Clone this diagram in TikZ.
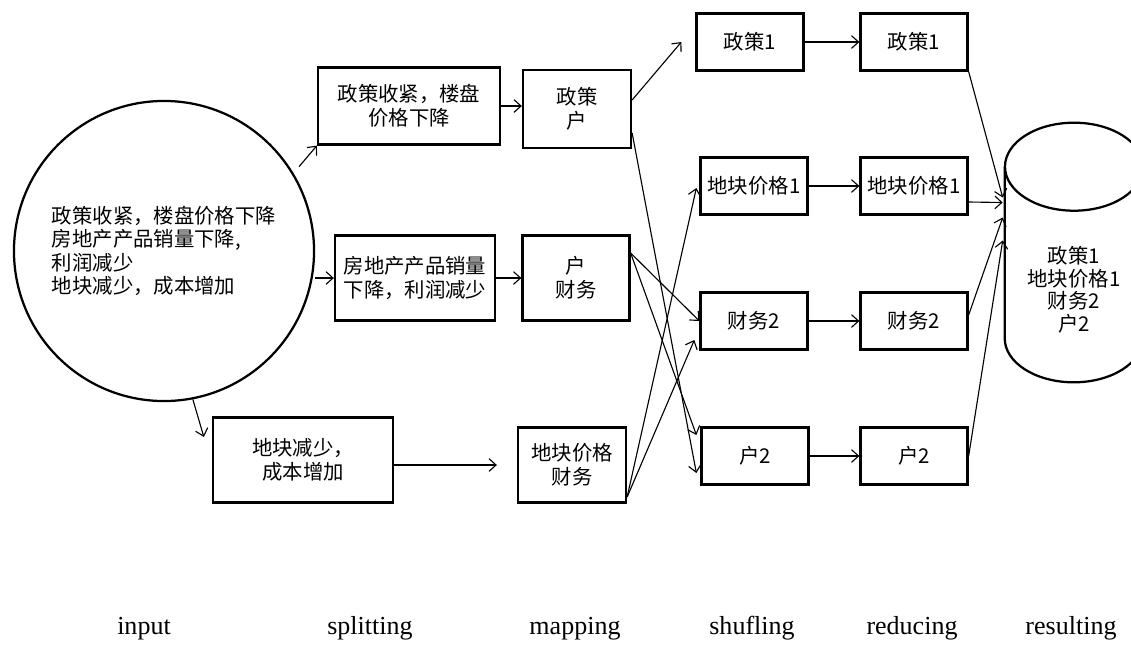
\documentclass[tikz,border=0pt]{standalone}
\usepackage{fontspec}
\setmainfont{Liberation Serif}
\newfontfamily\cjk{Noto Sans CJK SC}
\usepackage{tikz}
\usetikzlibrary{positioning,arrows.meta}

\begin{document}
\begin{tikzpicture}[
        x=0.025cm, y=-0.025cm,
        >={Straight Barb[length=5pt,width=9pt]},
        box/.style={draw, line width=1.6pt, align=center, inner sep=2pt,
            font=\cjk\fontsize{14.5}{17}\selectfont},
        smallbox/.style={box, minimum width=2.675cm, minimum height=1.425cm},
        bigcircle/.style={circle, draw, line width=1.6pt, inner sep=0pt, minimum size=7.5cm, align=left,
            font=\cjk\fontsize{14.5}{16.5}\selectfont},
        link/.style={->, line width=0.8pt},
        stage/.style={anchor=base, font=\fontsize{18.5}{20}\selectfont}
    ]
    \useasboundingbox (0,0) rectangle (1131,646);

    % input
    \node[bigcircle] (circ) at (164,251) {政策收紧，楼盘价格下降\\房地产产品销量下降,\\利润减少\\地块减少，成本增加};

    % splitting
    \node[box, minimum width=4.55cm, minimum height=1.925cm] (split1) at (409,106) {政策收紧，楼盘\\价格下降};
    \node[box, minimum width=4cm, minimum height=2.125cm] (split2) at (415,278) {房地产产品销量\\下降，利润减少};
    \node[box, minimum width=4.5cm, minimum height=2.125cm] (split3) at (303,460) {地块减少，\\成本增加};

    % mapping
    \node[box, minimum width=2.7cm, minimum height=1.95cm] (map1) at (577,109) {政策\\户};
    \node[box, minimum width=2.675cm, minimum height=2.125cm] (map2) at (576,278) {户\\财务};
    \node[box, minimum width=2.7cm, minimum height=1.875cm] (map3) at (572,465) {地块价格\\财务};

    % shufling
    \node[smallbox] (shuf1) at (750,42) {政策1};
    \node[smallbox] (shuf2) at (754,186) {地块价格1};
    \node[smallbox] (shuf3) at (754,321) {财务2};
    \node[smallbox] (shuf4) at (755,456) {户2};

    % reducing
    \node[smallbox] (red1) at (914,42) {政策1};
    \node[smallbox] (red2) at (914,186) {地块价格1};
    \node[smallbox] (red3) at (914,321) {财务2};
    \node[smallbox] (red4) at (914,456) {户2};

    % resulting
    \node[minimum width=3.45cm, minimum height=4.275cm, inner sep=0pt] (db) at (1074,252.5) {};
    \draw[line width=1.6pt] (db.north) ellipse [x radius=1.725cm, y radius=1.1cm];
    \draw[line width=1.6pt] (db.north west) -- (db.south west)
        arc[start angle=180, end angle=360, x radius=1.725cm, y radius=1.1cm] -- (db.north east);
    \node[align=center, font=\cjk\fontsize{14.5}{16}\selectfont] (dbtext) at (1074,290) {政策1\\地块价格1\\财务2\\户2};

    % input -> splitting
    \draw[link, shorten <=6pt] (circ.31) -- (split1.south west);
    \draw[link] (circ.east |- split2.west) -- (split2.west);
    \draw[link] (circ.-79) -- ([shift={(-8,-23)}]split3.west);

    % splitting -> mapping
    \draw[link] (split1.east) -- (split1.east -| map1.west);
    \draw[link] (split2.east) -- (split2.east -| map2.west);
    \draw[link] (split3.east |- map3.west) -- ([shift={(-20,0)}]map3.west);

    % mapping -> shufling
    \draw[link] ([shift={(0,-9)}]map1.east) -- ([shift={(-14,0)}]shuf1.west);
    \draw[link] ([shift={(0,24)}]map1.east) -- ([shift={(-4,17)}]shuf4.west);
    \draw[link] ([shift={(0,-25)}]map2.east) -- (shuf3.west);
    \draw[link] ([shift={(0,-25)}]map2.east) -- ([shift={(-4,-21)}]shuf4.west);
    \draw[link] ([shift={(0,32)}]map3.east) -- ([shift={(-3,2)}]shuf2.west);
    \draw[link] ([shift={(0,32)}]map3.east) -- ([shift={(-5,19)}]shuf3.west);

    % shufling -> reducing
    \foreach \i in {1,...,4}
        \draw[link] (shuf\i.east) -- (red\i.west);

    % reducing -> resulting
    \draw[link] (red1.south east) -- ([shift={(-2,-55)}]db.west);
    \draw[link] ([shift={(0,16)}]red2.east) -- ([shift={(-2,-50)}]db.west);
    \draw[link] ([shift={(0,-6)}]red3.east) -- ([shift={(-2,-35)}]db.west);
    \draw[link] (red4.east) -- ([shift={(-2,-12)}]db.west);

    % stage names
    \node[stage] (l1) at (144,634) {input};
    \node[stage] (l2) at (370,634) {splitting};
    \node[stage] (l3) at (575,634) {mapping};
    \node[stage] (l4) at (752,634) {shufling};
    \node[stage] (l5) at (912,634) {reducing};
    \node[stage] (l6) at (1071,634) {resulting};
\end{tikzpicture}
\end{document}
